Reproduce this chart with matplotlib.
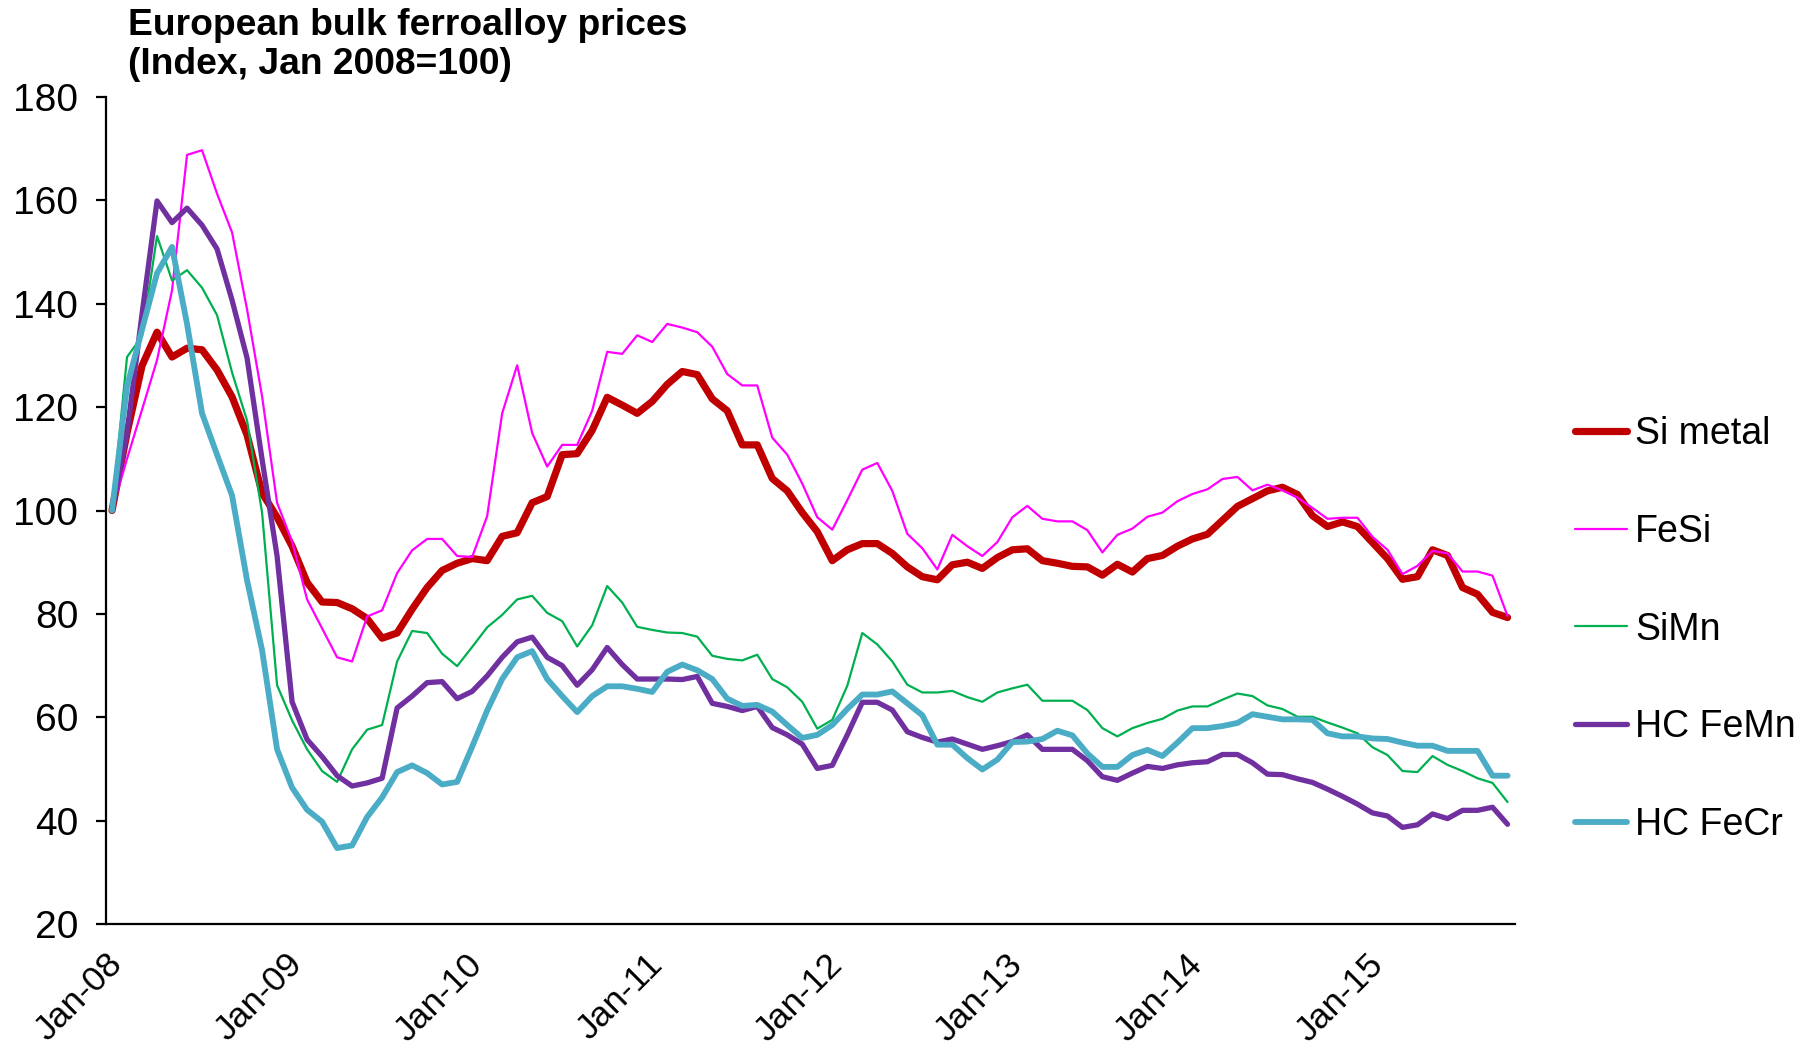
import matplotlib
matplotlib.use("Agg")
import matplotlib.pyplot as plt
import matplotlib.transforms as mtransforms

plt.rcParams['font.family'] = ['Liberation Sans', 'DejaVu Sans']

# monthly index, Jan 2008 = 100 (Jan-08 .. Oct-15)
si_metal = [100, 115, 128, 134.5, 129.7, 131.4, 131.1, 127.2, 122, 114.6, 103.4, 98.7,
            93.1, 86.1, 82.3, 82.2, 81, 79.1, 75.3, 76.3, 80.9, 85.1, 88.4, 89.8,
            90.7, 90.3, 95, 95.7, 101.5, 102.7, 110.8, 111, 115.5, 121.9, 120.4, 118.8,
            121.1, 124.4, 126.9, 126.3, 121.6, 119.3, 112.7, 112.7, 106.2, 103.8, 99.6, 95.9,
            90.3, 92.4, 93.6, 93.6, 91.7, 89.1, 87.2, 86.6, 89.5, 90, 88.8, 90.9,
            92.4, 92.6, 90.3, 89.8, 89.2, 89.1, 87.5, 89.6, 88.1, 90.7, 91.3, 93.1,
            94.5, 95.4, 98.1, 100.8, 102.3, 103.8, 104.5, 103.1, 99, 96.9, 97.8, 96.9,
            93.8, 90.7, 86.7, 87.2, 92.4, 91.3, 85.1, 83.8, 80.3, 79.3]
fesi = [100, 110, 119.5, 129.1, 142.6, 168.8, 169.7, 161.3, 153.8, 138.9, 122.1, 101.5,
        94, 82.8, 77.2, 71.6, 70.8, 79.5, 80.7, 87.9, 92.3, 94.5, 94.5, 91.2,
        91, 98.9, 118.8, 128.1, 115, 108.5, 112.7, 112.7, 119.3, 130.7, 130.3, 133.9,
        132.6, 136.1, 135.4, 134.5, 131.7, 126.4, 124.2, 124.2, 114.1, 110.8, 105.2, 98.7,
        96.3, 102, 107.9, 109.2, 103.8, 95.5, 92.7, 88.6, 95.3, 93.1, 91.2, 93.9,
        98.7, 100.9, 98.4, 97.9, 97.9, 96.2, 91.9, 95.3, 96.5, 98.8, 99.6, 101.8,
        103.2, 104.1, 106.1, 106.5, 103.9, 105, 103.9, 102.5, 100.5, 98.4, 98.6, 98.6,
        94.9, 92.4, 87.7, 89.3, 92.2, 91.7, 88.2, 88.2, 87.4, 79.6]
simn = [100, 129.7, 133.7, 153.1, 144.5, 146.5, 143.1, 137.8, 126.7, 117.4, 99.6, 66.2,
        59.4, 53.8, 49.6, 47.5, 53.8, 57.6, 58.5, 70.8, 76.7, 76.3, 72.3, 69.9,
        73.6, 77.4, 79.8, 82.8, 83.5, 80.2, 78.6, 73.7, 77.8, 85.4, 82.2, 77.5,
        76.9, 76.4, 76.3, 75.6, 71.9, 71.3, 71, 72.1, 67.4, 65.8, 63, 57.8,
        59.5, 66.1, 76.3, 74.1, 70.8, 66.3, 64.8, 64.8, 65.1, 63.9, 63, 64.8,
        65.6, 66.3, 63.2, 63.2, 63.2, 61.4, 57.9, 56.3, 57.9, 58.9, 59.7, 61.3,
        62.1, 62.1, 63.4, 64.6, 64.1, 62.3, 61.6, 60.1, 60.1, 59, 58, 56.9,
        54.2, 52.7, 49.6, 49.4, 52.5, 50.8, 49.6, 48.2, 47.3, 43.6]
hc_femn = [100, 115, 138, 159.9, 155.7, 158.5, 155.2, 150.6, 140.7, 129.5, 109.9, 91.2,
           63, 55.7, 52.4, 48.7, 46.7, 47.3, 48.2, 61.8, 64.1, 66.7, 66.9, 63.6,
           65, 68, 71.6, 74.6, 75.5, 71.6, 70, 66.2, 69.2, 73.5, 70.2, 67.4,
           67.4, 67.4, 67.3, 67.9, 62.7, 62.1, 61.3, 62.1, 58, 56.6, 54.8, 50.1,
           50.7, 56.6, 62.9, 62.9, 61.4, 57.2, 56.1, 55.2, 55.8, 54.8, 53.8, 54.5,
           55.3, 56.6, 53.8, 53.8, 53.8, 51.6, 48.5, 47.8, 49.2, 50.5, 50.1, 50.8,
           51.2, 51.4, 52.8, 52.8, 51.2, 49, 48.9, 48.1, 47.4, 46.1, 44.7, 43.2,
           41.5, 40.9, 38.7, 39.2, 41.3, 40.4, 42, 42, 42.6, 39.3]
hc_fecr = [100, 124, 135, 145.9, 151, 136.1, 118.8, 110.8, 102.9, 86.5, 73, 53.8,
           46.4, 42.1, 39.8, 34.7, 35.2, 40.7, 44.5, 49.4, 50.7, 49.2, 47, 47.5,
           54.3, 61.3, 67.4, 71.6, 72.8, 67.4, 64.1, 61, 64.1, 66, 66, 65.5,
           64.9, 68.8, 70.2, 69.1, 67.4, 63.6, 62.2, 62.4, 61.1, 58.5, 56, 56.6,
           58.5, 61.6, 64.4, 64.4, 65, 62.7, 60.4, 54.7, 54.7, 52.1, 49.9, 51.8,
           55.2, 55.3, 55.8, 57.4, 56.5, 53, 50.4, 50.4, 52.7, 53.7, 52.5, 55.1,
           57.9, 57.9, 58.3, 58.9, 60.6, 60.1, 59.6, 59.6, 59.5, 56.9, 56.3, 56.3,
           55.9, 55.8, 55.1, 54.5, 54.5, 53.5, 53.5, 53.5, 48.7, 48.7]

months = list(range(len(si_metal)))
tick_pos = [0, 12, 24, 36, 48, 60, 72, 84]
tick_labels = ['Jan-08', 'Jan-09', 'Jan-10', 'Jan-11', 'Jan-12', 'Jan-13', 'Jan-14', 'Jan-15']

series = [
    ('Si metal', si_metal, '#C00000', 5.2),
    ('FeSi', fesi, '#FF00FF', 1.6),
    ('SiMn', simn, '#00B050', 1.6),
    ('HC FeMn', hc_femn, '#7030A0', 3.8),
    ('HC FeCr', hc_fecr, '#4BACC6', 4.2),
]

fig = plt.figure(figsize=(18.09, 10.51), dpi=100)
ax = fig.add_axes([0.0586, 0.1208, 0.8375 - 0.0586, 0.9077 - 0.1208])

for name, vals, color, lw in series:
    ax.plot(months, vals, color=color, lw=lw, label=name,
            solid_capstyle='round', solid_joinstyle='round')

ax.set_xlim(-0.4, 93.5)
ax.set_ylim(20, 180)
ax.set_yticks(range(20, 181, 20))

ax.spines['top'].set_visible(False)
ax.spines['right'].set_visible(False)
ax.spines['left'].set_linewidth(1.6)
ax.spines['bottom'].set_linewidth(1.6)
ax.tick_params(axis='y', direction='out', length=7, width=1.6, pad=13, labelsize=28)
ax.tick_params(axis='x', length=0, pad=17, labelsize=25.5)

ax.set_xticks(tick_pos)
ax.set_xticklabels(tick_labels, rotation=45, ha='right', va='top')
# shift the rotated labels a bit to the right, as in the original
offset = mtransforms.ScaledTranslation(17 / 100, 0, fig.dpi_scale_trans)
for lab in ax.get_xticklabels():
    lab.set_transform(lab.get_transform() + offset)

fig.text(0.0708, 0.992, 'European bulk ferroalloy prices\n(Index, Jan 2008=100)',
         fontsize=26.8, fontweight='bold', va='top', ha='left', linespacing=1.12)

ax.legend(loc='center left', bbox_to_anchor=(0.8706, 0.401), bbox_transform=fig.transFigure,
          frameon=False, fontsize=27, handlelength=1.4, handletextpad=0.2,
          labelspacing=1.65, borderpad=0, borderaxespad=0)

fig.savefig('out.png', dpi=100)
